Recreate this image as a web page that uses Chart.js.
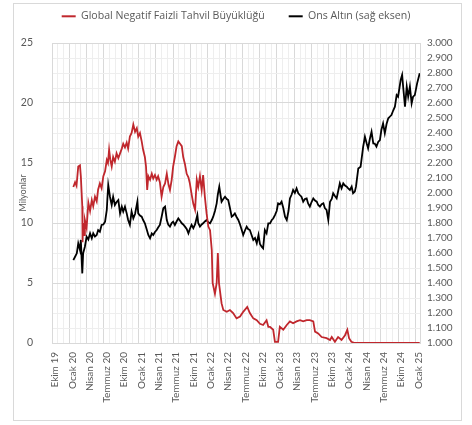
<!DOCTYPE html>
<html><head><meta charset="utf-8">
<script src="https://cdn.jsdelivr.net/npm/chart.js@4.4.1/dist/chart.umd.min.js"></script>
<style>
html,body{margin:0;padding:0;background:#fff;}
#wrap{position:relative;width:472px;height:425px;}
#frame{position:absolute;left:13px;top:3px;width:447px;height:416px;border:1px solid #d9d9d9;pointer-events:none;}
canvas{display:block;}
</style></head><body>
<div id="wrap"><canvas id="c" width="472" height="425" style="width:472px;height:425px"></canvas><div id="frame"></div></div>
<script>
// x positions are months since Oct 2019 (Ekim 19 = 0)
const xTickLabels = ['Ekim 19','Ocak 20','Nisan 20','Temmuz 20','Ekim 20','Ocak 21','Nisan 21','Temmuz 21','Ekim 21','Ocak 22','Nisan 22','Temmuz 22','Ekim 22','Ocak 23','Nisan 23','Temmuz 23','Ekim 23','Ocak 24','Nisan 24','Temmuz 24','Ekim 24','Ocak 25'];
const seriesNames = ['Global Negatif Faizli Tahvil Büyüklüğü','Ons Altın (sağ eksen)'];

const negMonths = [3.7,4.0,4.25,4.55,4.85,5.0,5.25,5.3,5.4,5.6,5.7,6.0,6.3,6.6,6.9,7.15,7.45,7.75,8.0,8.3,8.6,8.9,9.2,9.5,9.7,9.9,10.1,10.35,10.6,10.9,11.2,11.5,11.8,12.1,12.35,12.65,12.95,13.2,13.5,13.8,14.1,14.4,14.7,14.95,15.25,15.55,15.8,16.1,16.3,16.5,16.7,17.0,17.3,17.55,17.85,18.15,18.4,18.7,19.0,19.3,19.6,19.9,20.2,20.45,20.75,21.0,21.3,21.6,21.9,22.2,22.5,22.75,23.05,23.35,23.65,23.9,24.2,24.5,24.8,25.1,25.35,25.65,25.95,26.2,26.5,26.8,27.1,27.4,27.7,27.85,28.25,28.55,28.75,28.95,29.4,29.7,30.3,30.85,31.4,32.0,32.6,33.15,33.85,34.3,34.9,35.5,36.05,36.6,37.2,37.5,37.8,38.35,38.65,39.2,39.5,40.1,40.7,41.25,41.8,42.4,43.0,43.55,44.15,44.7,45.3,45.6,46.15,46.75,47.6,48.2,48.5,49.05,49.6,50.2,50.8,51.2,51.5,51.9,52.5,63.75];
const negValues = [13.0,13.4,13.1,14.7,14.8,13.9,11.4,8.4,10.0,9.0,10.25,9.6,11.7,11.0,11.9,11.4,12.2,11.8,12.8,13.3,12.9,13.9,14.3,15.25,15.0,16.1,15.3,14.7,15.5,15.1,15.8,15.4,15.8,16.2,16.6,16.3,16.7,16.2,17.2,17.5,18.2,17.6,17.9,17.2,17.5,16.8,16.1,15.5,14.7,12.75,13.9,13.6,14.1,13.7,14.0,13.6,13.9,13.4,12.2,13.0,13.3,14.1,13.2,12.75,13.6,14.7,15.5,16.4,16.8,16.6,16.4,15.5,14.9,14.1,13.8,13.3,12.4,11.6,11.1,13.6,13.0,13.9,12.75,14.0,12.2,10.8,9.7,9.4,7.75,5.0,4.1,5.0,7.5,5.0,3.3,2.75,2.6,2.75,2.5,2.05,2.2,2.6,3.0,2.5,2.05,1.9,1.6,1.5,1.9,1.35,1.35,1.1,0.1,0.1,1.35,1.1,1.5,1.8,1.65,1.8,1.9,1.8,1.9,1.9,1.8,0.95,0.8,0.5,0.4,0.25,0.5,0.1,0.5,0.25,0.65,1.1,0.4,0.1,0,0];

const goldMonths = [3.7,4.0,4.3,4.55,4.85,5.0,5.25,5.4,5.7,6.0,6.3,6.6,6.9,7.15,7.45,7.75,8.0,8.3,8.6,8.9,9.2,9.5,9.6,9.75,10.05,10.35,10.6,10.9,11.2,11.5,11.8,12.1,12.35,12.65,12.95,13.2,13.5,13.8,14.1,14.4,14.8,14.95,15.25,15.55,15.8,16.1,16.4,16.7,17.0,17.3,17.55,17.85,18.15,18.4,18.7,19.0,19.3,19.6,19.9,20.15,20.45,20.75,21.0,21.3,21.6,21.9,22.2,22.5,22.75,23.05,23.35,23.65,23.9,24.2,24.5,24.8,25.2,25.35,25.65,25.95,26.2,26.5,26.8,27.1,27.4,27.7,27.95,28.25,28.55,28.75,29.0,29.2,29.4,29.7,30.0,30.3,30.55,30.85,31.15,31.4,31.7,32.0,32.3,32.6,32.9,33.15,33.45,33.75,34.0,34.3,34.6,34.9,35.2,35.5,35.8,36.05,36.35,36.6,36.9,37.2,37.5,37.8,38.1,38.35,38.65,38.95,39.2,39.5,39.8,40.1,40.4,40.7,41.0,41.25,41.55,41.8,42.1,42.4,42.7,43.0,43.25,43.55,43.85,44.15,44.4,44.7,45.0,45.3,45.6,45.9,46.15,46.45,46.75,47.05,47.3,47.6,47.9,48.2,48.5,48.75,49.05,49.35,49.6,49.9,50.2,50.5,50.8,51.1,51.35,51.65,51.95,52.2,52.5,52.7,53.1,53.5,53.95,54.25,54.55,54.8,55.1,55.4,55.7,55.95,56.25,56.55,56.85,57.1,57.4,57.7,58.0,58.3,58.6,58.85,59.15,59.45,59.75,60.0,60.45,60.7,60.9,61.2,61.5,61.75,62.05,62.35,62.6,62.9,63.3,63.75];
const goldValues = [1553,1575,1598,1665,1620,1687,1464,1598,1642,1709,1690,1731,1698,1731,1710,1720,1753,1742,1787,1790,1809,1887,1960,2053,1975,1920,1975,1920,1940,1953,1864,1909,1876,1909,1864,1820,1787,1876,1831,1860,1942,1864,1850,1842,1820,1798,1760,1720,1698,1730,1720,1740,1753,1770,1787,1840,1898,1909,1820,1790,1776,1800,1809,1787,1810,1831,1815,1798,1790,1776,1760,1731,1760,1787,1765,1790,1853,1800,1776,1790,1798,1810,1820,1805,1798,1820,1842,1880,1931,1990,2042,1990,1942,1960,1975,1960,1953,1900,1842,1850,1864,1840,1820,1790,1753,1720,1750,1776,1760,1753,1720,1687,1700,1665,1720,1660,1642,1631,1753,1731,1798,1798,1820,1830,1853,1880,1931,1925,1942,1900,1842,1820,1880,1964,1990,2020,2000,2031,1998,1985,1975,1942,1960,1964,1930,1909,1940,1964,1950,1942,1920,1909,1925,1931,1900,1887,1820,1942,1960,1998,1980,1964,2010,2064,2031,2064,2050,2042,2031,2020,2042,1998,2009,2042,2164,2175,2309,2375,2331,2298,2360,2408,2331,2330,2309,2340,2353,2420,2464,2398,2460,2498,2510,2520,2550,2575,2653,2642,2753,2787,2700,2575,2709,2642,2709,2598,2642,2653,2731,2798];

const FONT = "Lato, 'Open Sans', sans-serif";
const GREY = '#595959';
Chart.defaults.font.family = FONT;
Chart.defaults.font.size = 10;
Chart.defaults.color = GREY;

const toPts = (xs, ys) => xs.map((x, i) => ({x: x, y: ys[i]}));
const fmtThousands = v => String(Math.round(v)).replace(/\B(?=(\d{3})+(?!\d))/g, '.');
const monthCount = (xTickLabels.length - 1) * 3; // 63 monthly gridlines after Ekim 19

// keep the legend block tall enough so the plot starts below it like the reference
const legendBlock = {
  id: 'legendBlock',
  afterInit(chart) {
    const lg = chart.legend;
    if (!lg) return;
    const orig = lg.fit;
    lg.fit = function () { orig.call(this); this.height = 56; };
  }
};

new Chart(document.getElementById('c'), {
  type: 'line',
  data: {
    datasets: [
      {label: seriesNames[0], data: toPts(negMonths, negValues), yAxisID: 'y', borderColor: '#c0272d', backgroundColor: '#c0272d', borderWidth: 1.8, pointRadius: 0, tension: 0},
      {label: seriesNames[1], data: toPts(goldMonths, goldValues), yAxisID: 'y1', borderColor: '#000000', backgroundColor: '#000000', borderWidth: 1.8, pointRadius: 0, tension: 0}
    ]
  },
  plugins: [legendBlock],
  options: {
    responsive: false,
    animation: false,
    layout: {padding: {top: -13, left: 0, right: 0, bottom: 0}},
    plugins: {
      legend: {
        position: 'top',
        labels: {
          boxWidth: 14, boxHeight: 2, padding: 24, color: GREY, font: {size: 10.6, family: "'Open Sans', Lato, sans-serif"},
          generateLabels: chart => Chart.defaults.plugins.legend.labels.generateLabels(chart).map(l => Object.assign(l, {lineWidth: 0}))
        }
      },
      tooltip: {enabled: false}
    },
    scales: {
      x: {
        type: 'linear', min: 0, max: 63.8,
        afterBuildTicks: s => { s.ticks = Array.from({length: monthCount + 1}, (_, i) => ({value: i})); },
        afterFit: s => { s.height = 82; },
        border: {color: '#d9d9d9'},
        grid: {drawTicks: false, color: c => (c.tick && c.tick.value % 3 === 0) ? '#d9d9d9' : '#eeeeee'},
        ticks: {
          autoSkip: false, maxRotation: 90, minRotation: 90, padding: 9, labelOffset: 3, color: GREY, font: {size: 10},
          callback: v => (v % 3 === 0) ? xTickLabels[v / 3] : ''
        }
      },
      y: {
        position: 'left', min: 0, max: 25,
        afterFit: s => { s.width = 52; },
        border: {color: '#d9d9d9'},
        grid: {display: false},
        ticks: {stepSize: 5, padding: 11, color: GREY, font: {size: 10.5}},
        title: {display: true, text: 'Milyonlar', color: GREY, font: {size: 9}, padding: {top: 18, bottom: 0}}
      },
      y1: {
        position: 'right', min: 1000, max: 3000,
        afterFit: s => { s.width = 52; },
        border: {color: '#d9d9d9'},
        grid: {drawTicks: false, color: c => (c.index % 4 === 0) ? '#d9d9d9' : '#eeeeee'},
        ticks: {stepSize: 100, padding: 7, color: GREY, font: {size: 10}, callback: v => fmtThousands(v)}
      }
    }
  }
});
</script>
</body></html>
